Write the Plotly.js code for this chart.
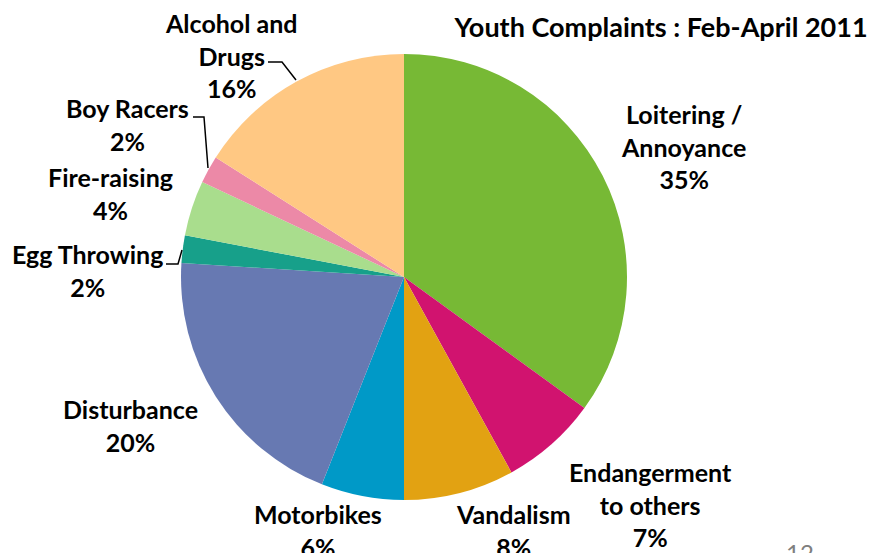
<!DOCTYPE html>
<html>
<head>
<meta charset="utf-8">
<script src="https://cdn.plot.ly/plotly-3.0.1.min.js"></script>
<style>html,body{margin:0;padding:0;background:#fff;}#chart{width:886px;height:553px;}</style>
</head>
<body>
<div id="chart"></div>
<script>
// ---- data ----
const categories = ['Loitering / Annoyance', 'Endangerment to others', 'Vandalism', 'Motorbikes', 'Disturbance', 'Egg Throwing', 'Fire-raising', 'Boy Racers', 'Alcohol and Drugs'];
const labelLines = [['Loitering /', 'Annoyance'], ['Endangerment', 'to others'], ['Vandalism'], ['Motorbikes'], ['Disturbance'], ['Egg Throwing'], ['Fire-raising'], ['Boy Racers'], ['Alcohol and', 'Drugs']];
const percents = [35, 7, 8, 6, 20, 2, 4, 2, 16];
const colors = ['#77B935', '#D1136F', '#E2A212', '#0099C7', '#6779B2', '#17A08A', '#A9DD8D', '#EC89A7', '#FFC883'];
const titleText = 'Youth Complaints : Feb-April 2011';

// ---- layout helpers ----
const W = 886, H = 553;
const px = x => x / W;
const py = y => 1 - y / H;
const FONT = 'Lato, "Open Sans", sans-serif';

// label block centres (pixels)
const labelPos = [[683, 146], [650, 504], [513, 530], [318, 530], [130, 425], [87, 270], [110, 193], [128, 124], [231, 55]];

const annotations = categories.map((c, i) => ({
  xref: 'paper', yref: 'paper',
  x: px(labelPos[i][0]), y: py(labelPos[i][1]),
  xanchor: 'center', yanchor: 'middle',
  showarrow: false,
  text: '<b>' + labelLines[i].concat([percents[i] + '%']).join('<br>') + '</b>',
  font: {family: FONT, size: 25, color: '#000'},
  align: 'center'
}));
annotations.push({
  xref: 'paper', yref: 'paper', x: px(800), y: py(552), xanchor: 'center', yanchor: 'middle',
  showarrow: false, text: '12', font: {family: FONT, size: 24, color: '#7F7F7F'}
});

const leaders = [
  [[268, 62], [282, 62], [296, 80]],
  [[193, 117], [204, 117], [208, 168]],
  [[166, 264], [178, 264], [182, 250]]
];
const shapes = leaders.map(pts => ({
  type: 'path', xref: 'paper', yref: 'paper',
  path: pts.map((p, k) => (k ? 'L' : 'M') + px(p[0]) + ',' + py(p[1])).join(' '),
  line: {color: '#000', width: 1.5}
}));

const cx = 404, cy = 277, r = 223;
const trace = {
  type: 'pie',
  labels: categories,
  values: percents,
  sort: false,
  direction: 'clockwise',
  rotation: 0,
  textinfo: 'none',
  hoverinfo: 'label+percent',
  marker: {colors: colors, line: {width: 0}},
  domain: {x: [px(cx - r), px(cx + r)], y: [py(cy + r), py(cy - r)]},
  showlegend: false
};

const layout = {
  width: W, height: H,
  margin: {l: 0, r: 0, t: 0, b: 0},
  paper_bgcolor: '#fff',
  showlegend: false,
  title: {
    text: '<b>' + titleText + '</b>',
    x: px(661), xanchor: 'center', xref: 'paper',
    y: py(28), yanchor: 'middle', yref: 'paper',
    font: {family: FONT, size: 27, color: '#000'}
  },
  annotations: annotations,
  shapes: shapes
};

Plotly.newPlot('chart', [trace], layout, {displayModeBar: false, staticPlot: true});
</script>
</body>
</html>
